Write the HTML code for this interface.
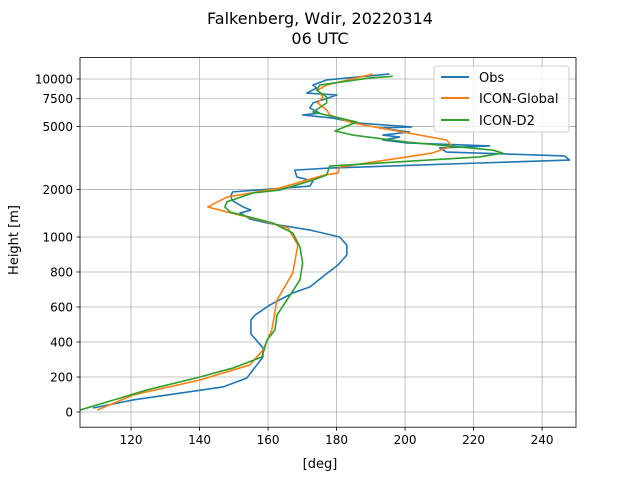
<!DOCTYPE html>
<html><head><meta charset="utf-8"><style>
body{margin:0;background:#fff;}
svg{display:block;font-family:"DejaVu Sans","Liberation Sans",sans-serif;}
</style></head><body>
<svg id="chart" width="640" height="480">
<text x="320" y="24" text-anchor="middle" font-size="16">Falkenberg, Wdir, 20220314</text>
<text x="320" y="44" text-anchor="middle" font-size="16">06 UTC</text>
<g id="grid"></g><g id="series"></g><g id="axes"></g>
<text x="320" y="468" text-anchor="middle" font-size="13">[deg]</text>
<text transform="translate(18,240) rotate(-90)" text-anchor="middle" font-size="13">Height [m]</text>
<g>
<rect x="434" y="66" width="135" height="66" rx="3" fill="#fff" fill-opacity="0.8" stroke="#ccc"/>
<line x1="441" y1="77" x2="469" y2="77" stroke="#1f77b4" stroke-width="2"/>
<text x="479" y="82" font-size="13">Obs</text>
<line x1="441" y1="98" x2="469" y2="98" stroke="#ff7f0e" stroke-width="2"/>
<text x="479" y="103" font-size="13">ICON-Global</text>
<line x1="441" y1="120" x2="469" y2="120" stroke="#2ca02c" stroke-width="2"/>
<text x="479" y="125" font-size="13">ICON-D2</text>
</g>
</svg>
<script>
const xTicks=[120,140,160,180,200,220,240];
const yTicks=[0,200,400,600,800,1000,2000,5000,7500,10000];
const obsDeg=[108.9,120.6,146.8,153.8,158.5,158.5,155.0,155.0,156.2,160.5,167.2,172.2,176.6,180.4,183.0,183.0,180.9,172.2,159.7,154.7,151.8,155.0,152.7,149.4,149.2,149.7,172.2,173.1,168.4,167.8,178.0,221.7,248.0,246.5,212.1,210.1,224.7,200.5,193.5,198.4,193.5,201.3,192.6,201.9,185.9,178.9,170.1,175.1,172.2,173.1,180.1,171.3,174.2,173.1,177.1,195.5];
const obsH=[23,69,143,194,314,366,446,526,554,611,680,714,783,840,897,954,1000,1107,1226,1300,1420,1480,1550,1710,1840,1930,2100,2260,2400,2650,2730,2940,3070,3260,3450,3660,3770,3940,4110,4290,4420,4620,4900,4970,5270,5660,5920,6090,6550,7050,7920,8150,8770,9160,9860,10760];
const globDeg=[110.1,120.6,140.1,154.7,158.5,161.1,162.6,167.2,168.7,165.8,159.7,148.0,142.4,148.0,163.4,176.6,180.4,180.9,208.0,213.6,212.1,184.7,178.0,177.1,174.5,176.0,174.5,177.1,190.6];
const globH=[11,97,183,269,354,469,640,794,954,1140,1245,1440,1550,1790,2040,2470,2540,2770,3400,3770,4110,5270,5920,6370,7050,7690,8510,9160,10760];
const d2Deg=[105.1,124.7,140.1,149.7,158.2,159.7,162.0,162.6,165.5,169.3,170.1,169.3,167.2,161.4,148.9,147.4,148.0,155.6,163.4,173.1,177.1,178.0,221.7,228.5,225.5,200.5,184.7,179.5,185.9,180.9,173.1,177.1,177.1,174.2,175.1,189.7,196.4];
const d2H=[11,126,200,251,314,411,469,554,640,754,851,943,1060,1226,1440,1550,1670,1900,1980,2290,2470,2810,3210,3400,3550,3990,4420,4690,5340,5660,6180,7050,7690,8510,9160,10150,10400];
const L=80,R=576,T=57.6,B=427.2,xmin=105.1,xmax=249.9;
function X(v){return L+(v-xmin)/(xmax-xmin)*(R-L);}
function Y(h){return h<=1000?412-h/200*35:237-158*Math.log10(h/1000);}
const NS="http://www.w3.org/2000/svg";
function mk(t,a,p){const e=document.createElementNS(NS,t);for(const k in a)e.setAttribute(k,a[k]);p.appendChild(e);return e;}
const grid=document.getElementById('grid'),axes=document.getElementById('axes'),ser=document.getElementById('series');
xTicks.forEach(v=>{const x=X(v);
 const g=mk('line',{x1:x,x2:x,y1:T,y2:B,stroke:'#b0b0b0','stroke-width':0.8},grid);
 
 mk('line',{x1:x,x2:x,y1:B,y2:B+3.5,stroke:'#000','stroke-width':0.8},axes);
 const t=mk('text',{x:x,y:B+17,'text-anchor':'middle','font-size':12},axes);t.textContent=v;
 });
yTicks.forEach(v=>{const y=Y(v);
 const g=mk('line',{x1:L,x2:R,y1:y,y2:y,stroke:'#b0b0b0','stroke-width':0.8},grid);
 
 mk('line',{x1:L-3.5,x2:L,y1:y,y2:y,stroke:'#000','stroke-width':0.8},axes);
 const t=mk('text',{x:L-7,y:y+4.5,'text-anchor':'end','font-size':12},axes);t.textContent=v;
 });
const fr=mk('rect',{x:L,y:T,width:R-L,height:B-T,fill:'none',stroke:'#000','stroke-width':0.8},axes);

function line(ds,hs,c,name){const p=mk('polyline',{points:ds.map((d,i)=>X(d)+','+Y(hs[i])).join(' '),fill:'none',stroke:c,'stroke-width':1.6,'stroke-linejoin':'round'},ser);
 }
line(obsDeg,obsH,'#1f77b4','obs-line');
line(globDeg,globH,'#ff7f0e','icon-global-line');
line(d2Deg,d2H,'#2ca02c','icon-d2-line');
</script>
</body></html>
